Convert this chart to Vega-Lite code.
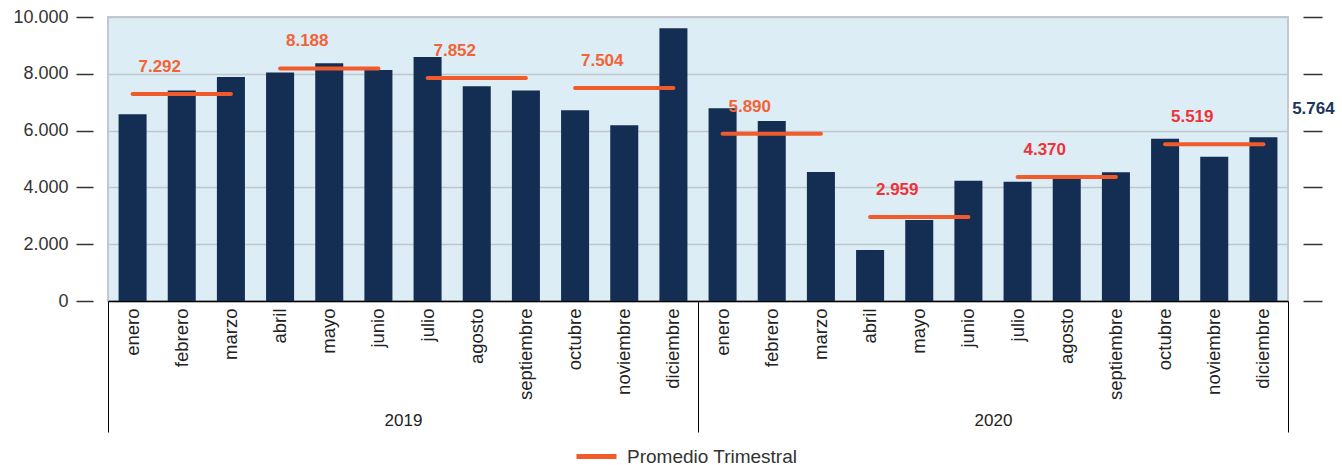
{
  "$schema": "https://vega.github.io/schema/vega-lite/v6.json",
  "width": 1180,
  "height": 284,
  "autosize": {"type": "none"},
  "padding": {"left": 108, "top": 17, "right": 54, "bottom": 164},
  "background": "white",
  "config": {
    "locale": {"number": {"decimal": ",", "thousands": ".", "grouping": [3], "currency": ["$", ""]}},
    "font": "Liberation Sans",
    "view": {"fill": "#DCEDF5", "stroke": "#C3C8CD", "strokeWidth": 2}
  },
  "datasets": {
    "meses": [
      {"key": "2019|enero", "year": "2019", "value": 6580},
      {"key": "2019|febrero", "year": "2019", "value": 7410},
      {"key": "2019|marzo", "year": "2019", "value": 7890},
      {"key": "2019|abril", "year": "2019", "value": 8050},
      {"key": "2019|mayo", "year": "2019", "value": 8370},
      {"key": "2019|junio", "year": "2019", "value": 8130},
      {"key": "2019|julio", "year": "2019", "value": 8590},
      {"key": "2019|agosto", "year": "2019", "value": 7560},
      {"key": "2019|septiembre", "year": "2019", "value": 7410},
      {"key": "2019|octubre", "year": "2019", "value": 6720},
      {"key": "2019|noviembre", "year": "2019", "value": 6190},
      {"key": "2019|diciembre", "year": "2019", "value": 9600},
      {"key": "2020|enero", "year": "2020", "value": 6790},
      {"key": "2020|febrero", "year": "2020", "value": 6340},
      {"key": "2020|marzo", "year": "2020", "value": 4540},
      {"key": "2020|abril", "year": "2020", "value": 1800},
      {"key": "2020|mayo", "year": "2020", "value": 2850},
      {"key": "2020|junio", "year": "2020", "value": 4230},
      {"key": "2020|julio", "year": "2020", "value": 4200},
      {"key": "2020|agosto", "year": "2020", "value": 4380},
      {"key": "2020|septiembre", "year": "2020", "value": 4530},
      {"key": "2020|octubre", "year": "2020", "value": 5710},
      {"key": "2020|noviembre", "year": "2020", "value": 5080},
      {"key": "2020|diciembre", "year": "2020", "value": 5764}
    ],
    "trimestres": [
      {"year": "2019", "q": 1, "start": "2019|enero", "mid": "2019|febrero", "end": "2019|marzo", "avg": 7292},
      {"year": "2019", "q": 2, "start": "2019|abril", "mid": "2019|mayo", "end": "2019|junio", "avg": 8188},
      {"year": "2019", "q": 3, "start": "2019|julio", "mid": "2019|agosto", "end": "2019|septiembre", "avg": 7852},
      {"year": "2019", "q": 4, "start": "2019|octubre", "mid": "2019|noviembre", "end": "2019|diciembre", "avg": 7504},
      {"year": "2020", "q": 1, "start": "2020|enero", "mid": "2020|febrero", "end": "2020|marzo", "avg": 5890},
      {"year": "2020", "q": 2, "start": "2020|abril", "mid": "2020|mayo", "end": "2020|junio", "avg": 2959},
      {"year": "2020", "q": 3, "start": "2020|julio", "mid": "2020|agosto", "end": "2020|septiembre", "avg": 4370},
      {"year": "2020", "q": 4, "start": "2020|octubre", "mid": "2020|noviembre", "end": "2020|diciembre", "avg": 5519}
    ],
    "anios": [{"year": "2019"}, {"year": "2020"}]
  },
  "layer": [
    {
      "encoding": {
        "x": {
          "field": "key", "type": "nominal", "sort": null,
          "scale": {"paddingInner": 0.43, "paddingOuter": 0.215},
          "axis": {
            "title": null, "orient": "bottom",
            "labelExpr": "split(datum.value, '|')[1]",
            "labelAngle": -90, "labelFontSize": 18.5, "labelColor": "#222222",
            "labelPadding": 7, "labelLimit": 0,
            "ticks": false, "domain": true, "domainColor": "#000000", "domainWidth": 1.5,
            "grid": false
          }
        },
        "y": {
          "type": "quantitative",
          "scale": {"domain": [0, 10000], "nice": false},
          "axis": {
            "title": null, "orient": "left",
            "values": [0, 2000, 4000, 6000, 8000, 10000],
            "format": ",d", "labelFontSize": 18, "labelColor": "#333333",
            "labelPadding": 8, "offset": 15, "tickSize": 17, "tickColor": "#333333", "tickWidth": 1.5,
            "domain": false, "grid": true, "gridColor": "#C0C6CC", "gridWidth": 1.5
          }
        }
      },
      "layer": [
        {
          "data": {"name": "meses"},
          "mark": {"type": "bar", "color": "#132E52"},
          "encoding": {"y": {"field": "value", "type": "quantitative"}}
        },
        {
          "data": {"name": "trimestres"},
          "mark": {"type": "rule", "strokeWidth": 4, "strokeCap": "round"},
          "encoding": {
            "x": {"field": "start", "type": "nominal", "sort": null},
            "x2": {"field": "end"},
            "y": {"field": "avg", "type": "quantitative"},
            "color": {
              "datum": "Promedio Trimestral",
              "scale": {"range": ["#F15A2B"]},
              "legend": {
                "title": null, "orient": "none", "legendX": 466, "legendY": 417,
                "symbolType": "stroke", "symbolSize": 1600, "symbolStrokeWidth": 5,
                "labelFontSize": 19, "labelColor": "#333333", "labelOffset": 8, "labelLimit": 0
              }
            }
          }
        },
        {
          "data": {"name": "trimestres"},
          "mark": {"type": "text", "fontSize": 17, "fontWeight": "bold", "dx": -22, "dy": -27},
          "encoding": {
            "x": {"field": "mid", "type": "nominal", "sort": null},
            "y": {"field": "avg", "type": "quantitative"},
            "text": {"field": "avg", "type": "quantitative", "format": ",.0f"},
            "color": {
              "condition": {"test": "datum.year == '2020' && datum.q > 1", "value": "#EE3338"},
              "value": "#F26436"
            }
          }
        },
        {
          "data": {"name": "meses"},
          "transform": [{"filter": "datum.key == '2020|diciembre'"}],
          "mark": {"type": "text", "fontSize": 17, "fontWeight": "bold", "color": "#1B365D", "dx": 50, "dy": -28},
          "encoding": {
            "y": {"field": "value", "type": "quantitative"},
            "text": {"field": "value", "type": "quantitative", "format": ",.0f"}
          }
        }
      ]
    },
    {
      "data": {"name": "anios"},
      "mark": {"type": "point", "opacity": 0},
      "encoding": {
        "x": {
          "field": "year", "type": "nominal",
          "scale": {"paddingInner": 0, "paddingOuter": 0},
          "axis": {
            "title": null, "orient": "bottom", "domain": false, "grid": false,
            "ticks": true, "tickBand": "extent", "tickSize": 131, "tickColor": "#000000", "tickWidth": 1,
            "labelAngle": 0, "labelFontSize": 17, "labelColor": "#222222", "labelPadding": -20
          }
        },
        "y": {
          "datum": 0, "type": "quantitative",
          "scale": {"domain": [0, 10000], "nice": false},
          "axis": {
            "title": null, "orient": "right",
            "values": [0, 2000, 4000, 6000, 8000, 10000],
            "labels": false, "domain": false, "grid": false,
            "offset": 15, "tickSize": 19, "tickColor": "#333333", "tickWidth": 1.5
          }
        }
      }
    }
  ],
  "resolve": {"scale": {"x": "independent", "y": "independent"}}
}
